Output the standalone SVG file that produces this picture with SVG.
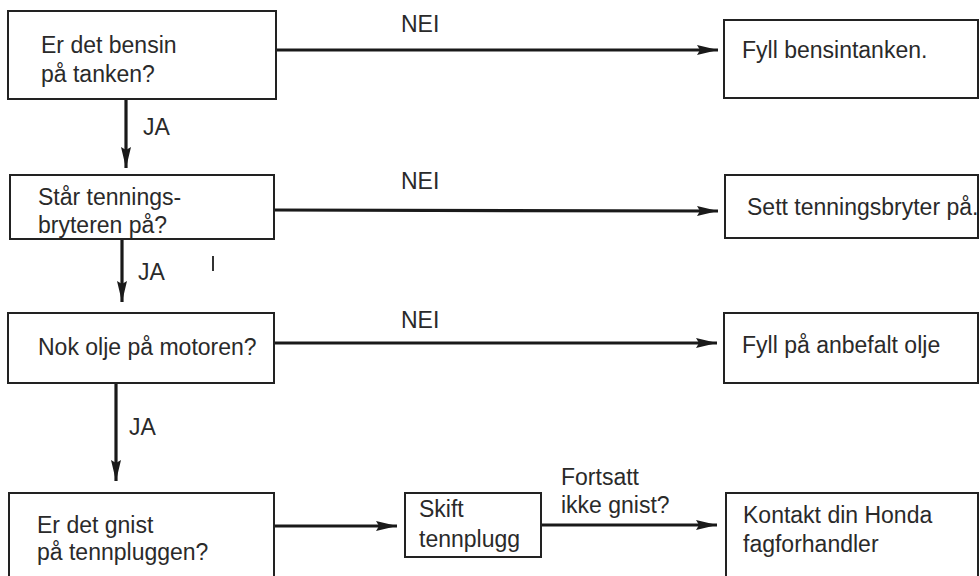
<svg xmlns="http://www.w3.org/2000/svg" width="980" height="576" viewBox="0 0 980 576">
<style>
.box{fill:#fff;stroke:#222;stroke-width:2}
.t{font-family:"Liberation Sans",Arial,sans-serif;font-size:23px;fill:#2a2a2a}
.c{stroke:#1a1a1a;stroke-width:3.2;fill:none}
</style>
<defs>
<marker id="ah" markerUnits="userSpaceOnUse" viewBox="0 -6 22 12" refX="21" refY="0" markerWidth="22" markerHeight="12" orient="auto">
<path d="M0,-5 L21,0 L0,5 L3,0 z" fill="#1a1a1a"/>
</marker>
</defs>
<rect width="980" height="576" fill="#fff"/>
<g id="connectors">
<line class="c" x1="276" y1="50" x2="718" y2="50" marker-end="url(#ah)"/>
<line class="c" x1="274" y1="210" x2="718" y2="211" marker-end="url(#ah)"/>
<line class="c" x1="274" y1="343" x2="717" y2="343" marker-end="url(#ah)"/>
<line class="c" x1="274" y1="526" x2="397" y2="526" marker-end="url(#ah)"/>
<line class="c" x1="541" y1="525" x2="717" y2="525" marker-end="url(#ah)"/>
<line class="c" x1="126" y1="99" x2="126" y2="168" marker-end="url(#ah)"/>
<line class="c" x1="122" y1="239" x2="122" y2="302" marker-end="url(#ah)"/>
<line class="c" x1="116" y1="383" x2="116" y2="481" marker-end="url(#ah)"/>
<text class="t" x="401" y="32">NEI</text>
<text class="t" x="401" y="189">NEI</text>
<text class="t" x="401" y="328">NEI</text>
<text class="t" x="143" y="135">JA</text>
<text class="t" x="138" y="280">JA</text>
<text class="t" x="129" y="435">JA</text>
<text class="t" x="561" y="485">Fortsatt</text>
<text class="t" x="561" y="513">ikke gnist?</text>
</g>
<line x1="213" y1="256" x2="213" y2="271" stroke="#333" stroke-width="2"/>
<circle cx="23" cy="79" r="0.8" fill="#444"/>
<g id="n1"><rect class="box" x="8" y="11" width="268" height="88"/>
<text class="t" x="41" y="53">Er det bensin</text><text class="t" x="41" y="82">på tanken?</text></g>
<g id="n2"><rect class="box" x="724" y="20" width="254" height="78"/>
<text class="t" x="742" y="58">Fyll bensintanken.</text></g>
<g id="n3"><rect class="box" x="10" y="175" width="264" height="64"/>
<text class="t" x="38" y="205">Står tennings-</text><text class="t" x="38" y="233">bryteren på?</text></g>
<g id="n4"><rect class="box" x="725" y="175" width="253" height="63"/>
<text class="t" x="747" y="215">Sett tenningsbryter på.</text></g>
<g id="n5"><rect class="box" x="8" y="313" width="266" height="70"/>
<text class="t" x="38" y="355">Nok olje på motoren?</text></g>
<g id="n6"><rect class="box" x="724" y="313" width="254" height="70"/>
<text class="t" x="742" y="353">Fyll på anbefalt olje</text></g>
<g id="n7"><rect class="box" x="9" y="493" width="265" height="90"/>
<text class="t" x="37" y="533">Er det gnist</text><text class="t" x="37" y="560">på tennpluggen?</text></g>
<g id="n8"><rect class="box" x="405" y="493" width="136" height="64"/>
<text class="t" x="419" y="517">Skift</text><text class="t" x="419" y="547">tennplugg</text></g>
<g id="n9"><rect class="box" x="726" y="493" width="252" height="90"/>
<text class="t" x="743" y="523">Kontakt din Honda</text><text class="t" x="743" y="552">fagforhandler</text></g>
</svg>
